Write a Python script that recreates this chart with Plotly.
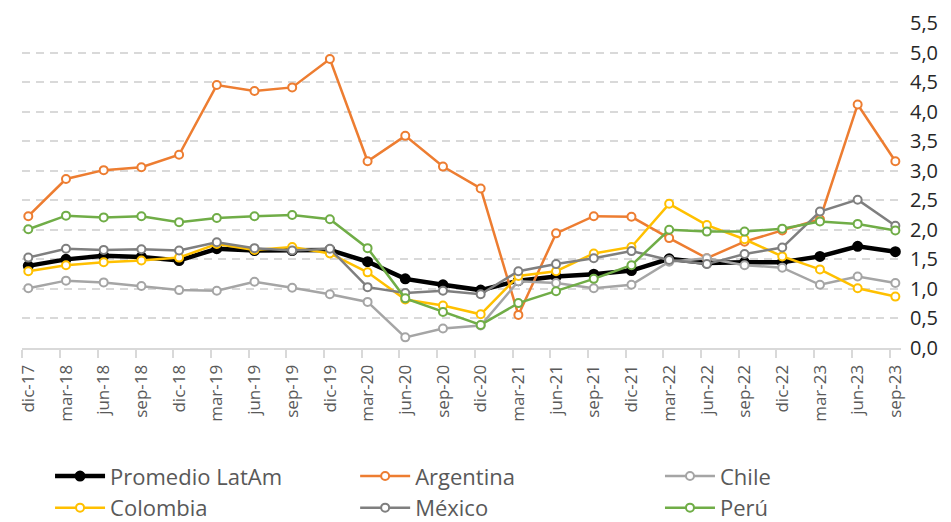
import plotly.graph_objects as go

categories = ["dic-17", "mar-18", "jun-18", "sep-18", "dic-18", "mar-19", "jun-19", "sep-19",
              "dic-19", "mar-20", "jun-20", "sep-20", "dic-20", "mar-21", "jun-21", "sep-21",
              "dic-21", "mar-22", "jun-22", "sep-22", "dic-22", "mar-23", "jun-23", "sep-23"]

promedio = [1.39, 1.50, 1.56, 1.54, 1.48, 1.68, 1.65, 1.65, 1.66, 1.46, 1.17, 1.07,
            0.98, 1.14, 1.21, 1.25, 1.31, 1.51, 1.44, 1.45, 1.45, 1.55, 1.72, 1.63]
argentina = [2.23, 2.86, 3.01, 3.06, 3.27, 4.45, 4.35, 4.41, 4.89, 3.16, 3.59, 3.07,
             2.70, 0.56, 1.94, 2.23, 2.22, 1.86, 1.52, 1.80, 1.99, 2.18, 4.12, 3.16]
chile = [1.01, 1.14, 1.11, 1.05, 0.98, 0.97, 1.12, 1.02, 0.91, 0.78, 0.18, 0.33,
         0.38, 1.13, 1.10, 1.01, 1.07, 1.46, 1.52, 1.40, 1.36, 1.07, 1.21, 1.10]
colombia = [1.30, 1.40, 1.45, 1.48, 1.53, 1.76, 1.66, 1.71, 1.60, 1.28, 0.82, 0.72,
            0.57, 1.22, 1.30, 1.60, 1.71, 2.44, 2.08, 1.84, 1.55, 1.33, 1.01, 0.87]
mexico = [1.53, 1.68, 1.66, 1.67, 1.65, 1.79, 1.69, 1.65, 1.68, 1.03, 0.93, 0.97,
          0.91, 1.30, 1.42, 1.52, 1.64, 1.49, 1.42, 1.59, 1.70, 2.31, 2.51, 2.07]
peru = [2.01, 2.24, 2.21, 2.23, 2.13, 2.20, 2.23, 2.25, 2.18, 1.69, 0.84, 0.61,
        0.39, 0.76, 0.96, 1.17, 1.40, 2.00, 1.97, 1.97, 2.02, 2.14, 2.10, 1.99]

y_ticks = [0.0, 0.5, 1.0, 1.5, 2.0, 2.5, 3.0, 3.5, 4.0, 4.5, 5.0, 5.5]

# name, values, colour, line width, marker fill, legend column
series = [
    ("Promedio LatAm", promedio, "#000000", 4.5, "#000000", "legend"),
    ("Argentina", argentina, "#ED7D31", 2.5, "#ffffff", "legend2"),
    ("Chile", chile, "#A5A5A5", 2.5, "#ffffff", "legend3"),
    ("Colombia", colombia, "#FFC000", 2.5, "#ffffff", "legend"),
    ("México", mexico, "#7F7F7F", 2.5, "#ffffff", "legend2"),
    ("Perú", peru, "#70AD47", 2.5, "#ffffff", "legend3"),
]

idx = list(range(len(categories)))

fig = go.Figure()
for name, vals, color, width, fill, leg in series:
    fig.add_trace(go.Scatter(
        x=idx, y=vals, name=name, mode="lines+markers", legend=leg,
        line=dict(color=color, width=width),
        marker=dict(symbol="circle", size=8 if name != "Promedio LatAm" else 9,
                    color=fill, line=dict(color=color, width=2)),
    ))

FONT = "Open Sans"
legend_common = dict(
    orientation="v", y=-0.33, xanchor="left", yanchor="top",
    font=dict(family=FONT, size=22, color="#595959"),
    itemwidth=50, tracegroupgap=0, bgcolor="rgba(0,0,0,0)",
)

fig.update_layout(
    width=951, height=522,
    margin=dict(l=14, r=58, t=15, b=182, autoexpand=False),
    paper_bgcolor="white", plot_bgcolor="white",
    separators=",.",
    font=dict(family=FONT, color="#595959"),
    showlegend=True,
    legend=dict(x=0.0319, **legend_common),
    legend2=dict(x=0.379, **legend_common),
    legend3=dict(x=0.7258, **legend_common),
    xaxis=dict(
        range=[-0.167, 23.15],
        tickmode="array",
        tickvals=[i - 0.155 for i in idx],
        ticktext=categories,
        ticklabelshift=6,
        tickangle=-90,
        ticks="outside", ticklen=8, tickwidth=1.5, tickcolor="#d9d9d9",
        showline=True, linecolor="#d9d9d9", linewidth=2,
        showgrid=False, zeroline=False,
        tickfont=dict(family=FONT, size=17, color="#595959"),
    ),
    yaxis=dict(
        side="right",
        range=[0, 5.5],
        tickmode="array", tickvals=y_ticks,
        tickformat=".1f",
        showgrid=True, gridcolor="#d9d9d9", gridwidth=2, griddash="8px,6px",
        zeroline=False, showline=False,
        ticks="", ticklabelstandoff=8,
        tickfont=dict(family=FONT, size=20, color="#262626"),
    ),
)

fig.write_html("out.html")
